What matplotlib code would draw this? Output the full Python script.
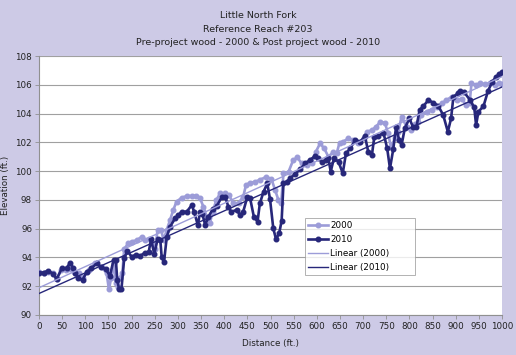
import numpy as np
import matplotlib
matplotlib.use("Agg")
import matplotlib.pyplot as plt

# survey points (distance ft, elevation ft)
dist_2000 = [0, 10, 20, 30, 38, 48, 58, 68, 78, 87, 95, 107, 121, 135, 146, 151, 156, 161, 166, 170,
             174, 180, 184, 193, 200, 211, 222, 229, 237, 244, 251, 256, 264, 269, 276, 283, 290, 297,
             308, 319, 330, 340, 348, 355, 362, 369, 375, 383, 391, 402, 410, 420, 431, 441, 447, 456,
             467, 477, 491, 502, 510, 517, 523, 528, 539, 549, 558, 567, 578, 589, 598, 607, 616, 625,
             636, 643, 649, 657, 668, 679, 690, 701, 708, 719, 728, 737, 747, 754, 760, 769, 776, 783,
             794, 803, 812, 819, 826, 837, 848, 859, 870, 880, 891, 902, 913, 922, 930, 934, 944, 953,
             964, 975, 984, 993, 1000]
elev_2000 = [93.0, 92.95, 93.0, 92.9, 92.5, 93.1, 93.1, 93.2, 92.95, 92.9, 92.6, 93.1, 93.6, 93.35,
             92.9, 91.78, 92.6, 93.6, 92.2, 91.98, 92.6, 92.9, 94.6, 94.98, 95.1, 95.2, 95.44, 95.2,
             95.3, 95.0, 94.6, 95.9, 95.9, 95.2, 95.93, 96.6, 97.3, 97.88, 98.15, 98.27, 98.27, 98.3,
             98.1, 97.53, 96.84, 96.37, 97.18, 97.99, 98.45, 98.45, 98.34, 97.76, 97.8, 98.22, 99.03,
             99.2, 99.26, 99.4, 99.6, 99.45, 98.68, 98.0, 97.76, 99.85, 99.96, 100.77, 100.96, 100.54,
             100.43, 100.54, 101.35, 101.93, 101.58, 101.0, 101.35, 101.24, 101.98, 102.05, 102.28,
             102.16, 101.98, 102.28, 102.74, 102.85, 103.09, 103.43, 103.36, 102.62, 101.7, 102.28,
             102.74, 103.78, 103.09, 102.85, 103.25, 103.43, 103.9, 104.13, 104.28, 104.45, 104.71,
             104.94, 105.17, 104.94, 105.05, 104.6, 104.71, 106.1, 106.0, 106.1, 106.05, 106.1, 106.0,
             106.1, 106.05]

dist_2010 = [0, 10, 20, 31, 38, 49, 60, 66, 74, 78, 85, 94, 103, 113, 125, 133, 145, 153, 161, 166,
             169, 173, 178, 184, 191, 200, 210, 218, 229, 237, 242, 249, 256, 262, 265, 270, 276, 283,
             294, 301, 308, 319, 330, 335, 343, 348, 353, 359, 366, 375, 384, 395, 402, 409, 415, 427,
             434, 441, 450, 456, 464, 472, 477, 485, 493, 499, 506, 512, 519, 524, 528, 535, 542, 553,
             564, 575, 585, 596, 603, 611, 620, 625, 630, 637, 647, 656, 663, 672, 683, 694, 704, 711,
             719, 724, 733, 744, 752, 758, 765, 771, 778, 783, 790, 800, 808, 815, 822, 830, 841, 852,
             862, 873, 883, 890, 895, 906, 910, 918, 931, 940, 944, 949, 960, 970, 979, 987, 994, 1000]
elev_2010 = [92.94, 92.95, 93.08, 92.85, 92.48, 93.24, 93.24, 93.6, 93.3, 92.9, 92.55, 92.43, 93.0,
             93.24, 93.6, 93.35, 93.17, 92.7, 93.82, 93.82, 92.43, 91.78, 91.78, 93.94, 94.45, 94.05,
             94.2, 94.1, 94.33, 94.4, 95.26, 94.24, 95.26, 95.2, 94.0, 93.7, 95.44, 96.14, 96.72, 96.95,
             97.18, 97.18, 97.64, 97.18, 96.25, 97.18, 97.0, 96.25, 96.84, 97.34, 97.57, 98.22, 98.22,
             97.53, 97.18, 97.3, 96.95, 97.18, 98.22, 98.1, 96.84, 96.49, 97.76, 98.57, 99.15, 98.04,
             96.02, 95.26, 95.72, 96.55, 99.15, 99.26, 99.5, 99.8, 100.12, 100.54, 100.77, 101.05,
             100.9, 100.65, 100.77, 100.9, 99.96, 100.9, 100.65, 99.85, 101.24, 101.58, 102.16, 102.05,
             102.44, 101.35, 101.12, 102.35, 102.44, 102.67, 101.58, 100.19, 101.51, 103.04, 102.16,
             101.81, 102.97, 103.67, 103.04, 103.04, 104.25, 104.52, 104.94, 104.75, 104.56, 103.9,
             102.74, 103.67, 105.17, 105.45, 105.6, 105.5, 104.94, 104.43, 103.2, 104.13, 104.52,
             105.6, 106.21, 106.56, 106.75, 106.91]

title_lines = ["Little North Fork", "Reference Reach #203",
               "Pre-project wood - 2000 & Post project wood - 2010"]

light = "#9c9cd8"
dark = "#27277a"
bg = "#cdcae6"

fig = plt.figure(figsize=(5.16, 3.55), dpi=100, facecolor=bg)
ax = fig.add_axes([0.0756, 0.1127, 0.8973, 0.7293])
ax.set_facecolor("white")

ax.plot(dist_2000, elev_2000, color=light, lw=1.9, marker="o", ms=3.3, label="2000", zorder=3)
ax.plot(dist_2010, elev_2010, color=dark, lw=1.9, marker="o", ms=3.3, label="2010", zorder=4)

# linear trend lines, like Excel's "Linear (...)"
xs = np.array([0, 1000])
p00 = np.polyfit(dist_2000, elev_2000, 1)
p10 = np.polyfit(dist_2010, elev_2010, 1)
ax.plot(xs, np.polyval(p00, xs), color=light, lw=1, label="Linear (2000)", zorder=5)
ax.plot(xs, np.polyval(p10, xs), color=dark, lw=1, label="Linear (2010)", zorder=5)

ax.set_xlim(0, 1000)
ax.set_ylim(90, 108)
ax.set_xticks(np.arange(0, 1001, 50))
ax.set_yticks(np.arange(90, 109, 2))
ax.yaxis.grid(True, color="#a0a0a0", lw=0.8)
ax.set_axisbelow(True)
for s in ["top", "right"]:
    ax.spines[s].set_visible(False)
for s in ["left", "bottom"]:
    ax.spines[s].set_color("#909090")
    ax.spines[s].set_linewidth(0.8)
ax.tick_params(labelsize=6.3, length=3, width=0.6, color="#909090", labelcolor="#222222", pad=2)

ax.set_xlabel("Distance (ft.)", fontsize=6.3, color="#222222", labelpad=6)
ax.set_ylabel("Elevation (ft.)", fontsize=6.3, color="#222222", labelpad=4)

for i, line in enumerate(title_lines):
    fig.text(0.5, 0.955 - i * 0.037, line, ha="center", va="center", fontsize=6.8, color="#222222")

leg = ax.legend(loc="lower left", bbox_to_anchor=(0.574, 0.154, 0.238, 0.19), mode="expand",
                fontsize=6.3, frameon=True, fancybox=False, borderaxespad=0,
                handlelength=2.2, labelspacing=0.55, handletextpad=0.3)
leg.get_frame().set_edgecolor("#909090")
leg.get_frame().set_linewidth(0.6)

fig.savefig("out.png", dpi=100, facecolor=bg)
